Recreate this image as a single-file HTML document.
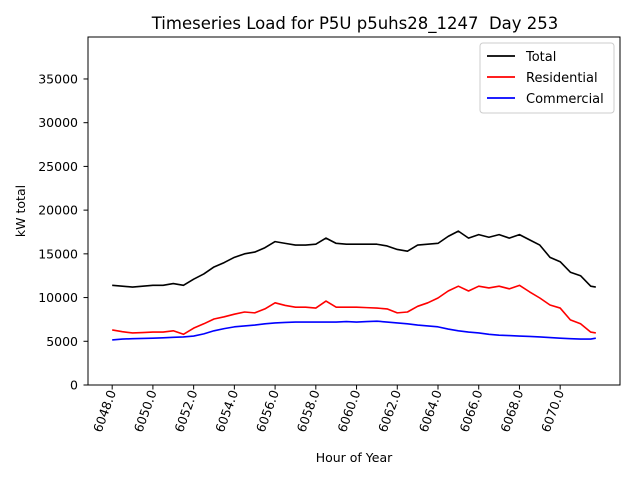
<!DOCTYPE html>
<html><head><meta charset="utf-8"><style>
body{margin:0;background:#fff}
svg{font-family:"DejaVu Sans","Liberation Sans",sans-serif}
</style></head><body>
<svg id="chart" width="640" height="480">
<rect width="640" height="480" fill="#fff"/>
<text x="355" y="29" font-size="16.5" text-anchor="middle" style="white-space:pre">Timeseries Load for P5U p5uhs28_1247&#160; Day 253</text>
<g id="plot"></g>
<rect x="88" y="37" width="532" height="348" fill="none" stroke="#000" stroke-width="1"/>
<text x="354" y="462" font-size="12.5" text-anchor="middle">Hour of Year</text>
<text transform="translate(25,211) rotate(-90)" font-size="12.5" text-anchor="middle">kW total</text>
<g>
<rect x="480" y="43" width="134" height="70" rx="3" fill="#fff" stroke="#ccc"/>
<line x1="487" y1="56" x2="515" y2="56" stroke="#000" stroke-width="1.8"/>
<text x="526" y="61" font-size="13">Total</text>
<line x1="487" y1="77" x2="515" y2="77" stroke="red" stroke-width="1.8"/>
<text x="526" y="82" font-size="13">Residential</text>
<line x1="487" y1="98" x2="515" y2="98" stroke="blue" stroke-width="1.8"/>
<text x="526" y="103" font-size="13">Commercial</text>
</g>
</svg>
<script>
const hours=[6048,6048.5,6049,6049.5,6050,6050.5,6051,6051.5,6052,6052.5,6053,6053.5,6054,6054.5,6055,6055.5,6056,6056.5,6057,6057.5,6058,6058.5,6059,6059.5,6060,6060.5,6061,6061.5,6062,6062.5,6063,6063.5,6064,6064.5,6065,6065.5,6066,6066.5,6067,6067.5,6068,6068.5,6069,6069.5,6070,6070.5,6071,6071.5,6071.75];
const total=[11400,11300,11200,11300,11400,11400,11600,11400,12100,12700,13500,14000,14600,15000,15200,15700,16400,16200,16000,16000,16100,16800,16200,16100,16100,16100,16100,15900,15500,15300,16000,16100,16200,17000,17600,16800,17200,16900,17200,16800,17200,16600,16000,14600,14100,12900,12500,11300,11200];
const residential=[6300,6100,5950,6000,6050,6050,6200,5800,6500,7000,7550,7800,8100,8350,8250,8700,9400,9100,8900,8900,8800,9600,8900,8900,8900,8850,8800,8700,8250,8350,9000,9400,9950,10750,11300,10750,11300,11100,11300,11000,11400,10650,9950,9150,8800,7450,7000,6050,5950];
const commercial=[5150,5250,5300,5320,5350,5400,5450,5500,5600,5850,6200,6450,6650,6750,6850,7000,7100,7150,7200,7200,7200,7200,7200,7250,7200,7250,7300,7200,7100,7000,6850,6750,6650,6400,6200,6050,5950,5800,5700,5650,5600,5550,5500,5420,5350,5300,5250,5250,5350];
const xTicks=[6048,6050,6052,6054,6056,6058,6060,6062,6064,6066,6068,6070];
const yTicks=[0,5000,10000,15000,20000,25000,30000,35000];
const NS="http://www.w3.org/2000/svg";
const X0=6046.8125,X1=6072.9375,Y0=0,Y1=39800;
function sx(v){return 88+(v-X0)/(X1-X0)*532;}
function sy(v){return 385-(v-Y0)/(Y1-Y0)*348;}
const g=document.getElementById('plot');
function mk(t,a){const e=document.createElementNS(NS,t);for(const k in a)e.setAttribute(k,a[k]);g.appendChild(e);return e;}
yTicks.forEach(v=>{
  const l=mk('line',{x1:83.5,x2:88,y1:sy(v),y2:sy(v),stroke:'#000'});
  
  
  const t=mk('text',{x:78,y:sy(v)+4.5,'font-size':12.5,'text-anchor':'end'});
  t.textContent=v;
  
  
});
xTicks.forEach(v=>{
  const x=sx(v);
  const l=mk('line',{x1:x,x2:x,y1:385,y2:389.5,stroke:'#000'});
  
  
  const t=mk('text',{transform:`translate(${x+4},392) rotate(-70)`,'font-size':12.5,'text-anchor':'end'});
  t.textContent=v.toFixed(1);
  
  
});
[[total,'#000','total-line'],[residential,'red','residential-line'],[commercial,'blue','commercial-line']].forEach(([d,c,n])=>{
  const p=mk('polyline',{points:d.map((v,i)=>sx(hours[i])+','+sy(v)).join(' '),fill:'none',stroke:c,'stroke-width':1.6,'stroke-linejoin':'round'});
  
  
});
</script>
</body></html>
